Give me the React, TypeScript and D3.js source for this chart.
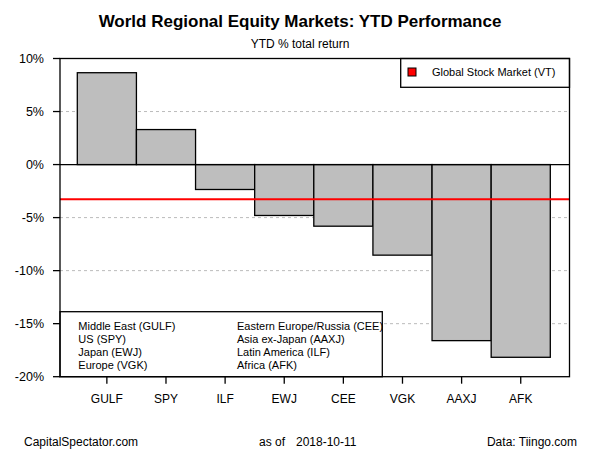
import React from "react";
import * as d3 from "d3";

const categories = ["GULF", "SPY", "ILF", "EWJ", "CEE", "VGK", "AAXJ", "AFK"];
const values = [8.66, 3.3, -2.35, -4.8, -5.81, -8.54, -16.6, -18.17];
const benchmark = -3.27;
const yTicks = [10, 5, 0, -5, -10, -15, -20];
const gridTicks = [5, -5, -10, -15];
const legendLeft = ["Middle East (GULF)", "US (SPY)", "Japan (EWJ)", "Europe (VGK)"];
const legendRight = ["Eastern Europe/Russia (CEE)", "Asia ex-Japan (AAXJ)", "Latin America (ILF)", "Africa (AFK)"];

const FONT = "Liberation Sans, Arial, sans-serif";

export default function App() {
  const W = 600, H = 450;
  const boxL = 60, boxR = 569.5, boxT = 58.5, boxB = 376.7;
  const y = d3.scaleLinear().domain([-20, 10]).range([boxB, boxT]);
  const x = d3.scaleBand<string>().domain(categories).range([77.3, 550.3]).padding(0);
  const y0 = y(0);

  return (
    <svg width={W} height={H} style={{ position: "absolute", left: 0, top: 0, background: "#fff" }} fontFamily={FONT}>
      <rect x={0} y={0} width={W} height={H} fill="#fff" />
      <text x={300} y={27} textAnchor="middle" fontSize={17} fontWeight="bold">World Regional Equity Markets: YTD Performance</text>
      <text x={300} y={48} textAnchor="middle" fontSize={12}>YTD % total return</text>

      {gridTicks.map((t) => (
        <line key={"g" + t} x1={boxL} x2={boxR} y1={y(t)} y2={y(t)} stroke="#bbb" strokeDasharray="3,3" strokeWidth={1} />
      ))}

      {categories.map((c, i) => {
        const v = values[i];
        const top = Math.min(y(v), y0);
        const h = Math.abs(y(v) - y0);
        return (
          <rect key={c} x={x(c)!} y={top} width={x.bandwidth()} height={h} fill="#bebebe" stroke="#000" strokeWidth={1.3} />
        );
      })}

      <line x1={boxL} x2={boxR} y1={y0} y2={y0} stroke="#000" strokeWidth={1.3} />

      {/* bottom-left legend */}
      <rect x={boxL} y={311.7} width={382.3 - boxL} height={boxB - 311.7} fill="#fff" stroke="#000" strokeWidth={1.3} />
      {legendLeft.map((s, i) => (
        <text key={"ll" + i} x={78.3} y={330 + i * 13} fontSize={11}>{s}</text>
      ))}
      {legendRight.map((s, i) => (
        <text key={"lr" + i} x={237} y={330 + i * 13} fontSize={11}>{s}</text>
      ))}

      <line x1={boxL} x2={boxR} y1={y(benchmark)} y2={y(benchmark)} stroke="#ff0000" strokeWidth={2.2} />

      {/* top-right legend */}
      <rect x={400.7} y={boxT} width={boxR - 400.7} height={87.3 - boxT} fill="#fff" stroke="#000" strokeWidth={1.3} />
      <rect x={408} y={68} width={8} height={8} fill="#ff0000" stroke="#000" strokeWidth={1} />
      <text x={432} y={76} fontSize={11}>Global Stock Market (VT)</text>

      {/* box */}
      <rect x={boxL} y={boxT} width={boxR - boxL} height={boxB - boxT} fill="none" stroke="#000" strokeWidth={1.3} />

      {/* y axis */}
      {yTicks.map((t) => (
        <g key={"y" + t}>
          <line x1={boxL - 7} x2={boxL} y1={y(t)} y2={y(t)} stroke="#000" strokeWidth={1.3} />
          <text x={44} y={y(t) + 4.5} textAnchor="end" fontSize={12.5}>{t + "%"}</text>
        </g>
      ))}

      {/* x axis */}
      {categories.map((c) => {
        const cx = x(c)! + x.bandwidth() / 2;
        return (
          <g key={"x" + c}>
            <line x1={cx} x2={cx} y1={boxB} y2={boxB + 7} stroke="#000" strokeWidth={1.3} />
            <text x={cx} y={403} textAnchor="middle" fontSize={12}>{c}</text>
          </g>
        );
      })}

      <text x={24} y={446} fontSize={12}>CapitalSpectator.com</text>
      <text x={259} y={446} fontSize={12}>as of</text>
      <text x={296} y={446} fontSize={12}>2018-10-11</text>
      <text x={577} y={446} textAnchor="end" fontSize={12}>Data: Tiingo.com</text>
    </svg>
  );
}
